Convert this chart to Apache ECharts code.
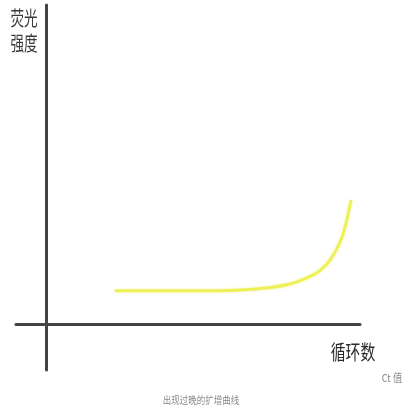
<!DOCTYPE html>
<html>
<head>
<meta charset="utf-8">
<script src="https://cdn.jsdelivr.net/npm/echarts@6/dist/echarts.min.js"></script>
<style>html,body{margin:0;padding:0;background:#fff;}#c{width:420px;height:420px;}</style>
</head>
<body>
<div id="c"></div>
<script>
const cycles = [9.2, 20, 26, 30, 33, 35.3, 36.7, 38, 39.3, 40, 40.8];
const fluorescence = [10.8, 10.8, 11.1, 11.9, 13.3, 15.5, 17.5, 20.8, 26.5, 31.5, 40.4];
const yTitle = '荧光\n强度';
const xTitle = '循环数';
const ctLabel = 'Ct 值';
const caption = '出现过晚的扩增曲线';

const chart = echarts.init(document.getElementById('c'));
const font = '"Noto Sans CJK SC", "Noto Sans", sans-serif';
const axisStyle = { color: '#444', width: 3 };
chart.setOption({
  backgroundColor: '#fff',
  animation: false,
  grid: { left: 16, right: 60, top: 5, bottom: 50 },
  xAxis: {
    type: 'value', min: -4, max: 42,
    axisLine: { show: true, onZero: true, lineStyle: axisStyle },
    axisTick: { show: false }, axisLabel: { show: false }, splitLine: { show: false }
  },
  yAxis: {
    type: 'value', min: -15, max: 104,
    axisLine: { show: true, onZero: true, lineStyle: axisStyle },
    axisTick: { show: false }, axisLabel: { show: false }, splitLine: { show: false }
  },
  series: [{
    type: 'line',
    data: cycles.map((c, i) => [c, fluorescence[i]]),
    smooth: 0.4,
    showSymbol: false,
    lineStyle: { color: '#eef058', width: 3, shadowColor: 'rgba(240,240,90,0.5)', shadowBlur: 3 }
  }],
  graphic: [
    { type: 'text', x: 24, y: 31, scaleX: 0.68, style: { text: yTitle, font: '20px ' + font, fill: '#3a3a3a', textAlign: 'center', textVerticalAlign: 'middle', align: 'center', verticalAlign: 'middle', lineHeight: 25 } },
    { type: 'text', x: 353, y: 352, scaleX: 0.74, style: { text: xTitle, font: '20px ' + font, fill: '#2a2a2a', textAlign: 'center', textVerticalAlign: 'middle', align: 'center', verticalAlign: 'middle' } },
    { type: 'text', x: 392, y: 378, scaleX: 0.85, style: { text: ctLabel, font: '11px ' + font, fill: '#8a8a8a', textAlign: 'center', textVerticalAlign: 'middle', align: 'center', verticalAlign: 'middle' } },
    { type: 'text', x: 201, y: 400, scaleX: 0.85, style: { text: caption, font: '10px ' + font, fill: '#8a8a8a', textAlign: 'center', textVerticalAlign: 'middle', align: 'center', verticalAlign: 'middle' } }
  ]
});
</script>
</body>
</html>
